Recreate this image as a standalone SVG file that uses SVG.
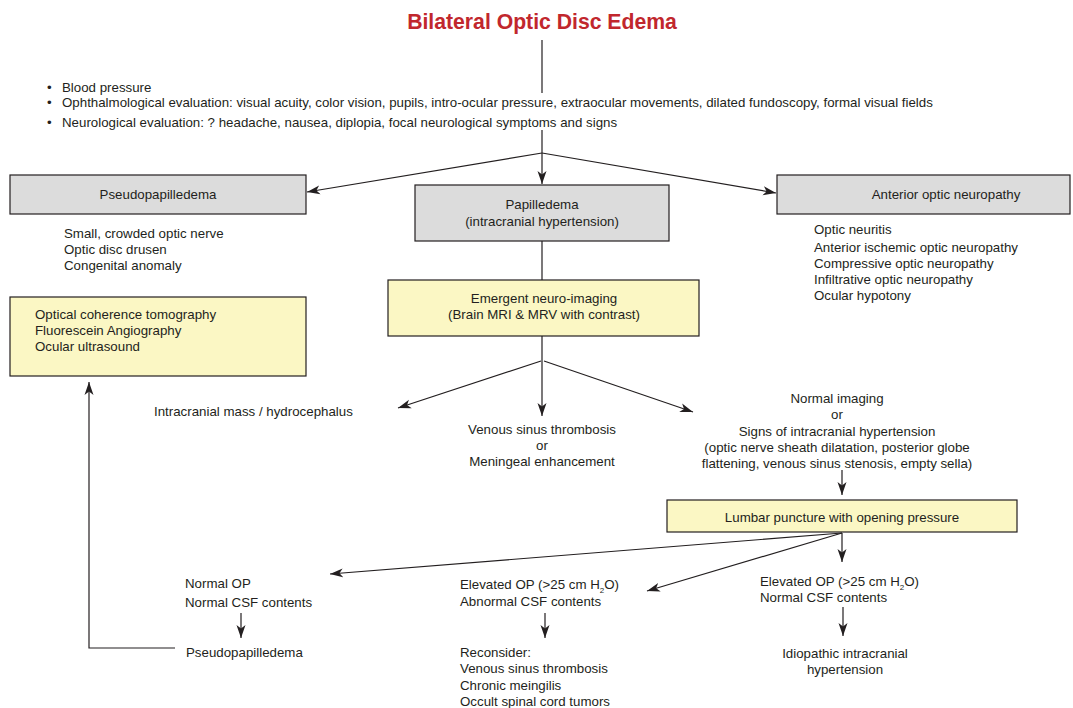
<svg xmlns="http://www.w3.org/2000/svg" width="1073" height="708" viewBox="0 0 1073 708">
<style>
text{font-family:"Liberation Sans",Arial,sans-serif;font-size:13.3px;fill:#231f20}
.title{font-size:21.2px;font-weight:bold;fill:#c1272d}
.c{text-anchor:middle}
.sub{font-size:8px}
.grey{fill:#dcdcdc;stroke:#231f20;stroke-width:1.2}
.yel{fill:#fbf7c4;stroke:#231f20;stroke-width:1.2}
.ln{fill:none;stroke:#231f20;stroke-width:1.2}
.ar{fill:none;stroke:#231f20;stroke-width:1.2;marker-end:url(#ah)}
</style>
<defs>
<marker id="ah" markerUnits="userSpaceOnUse" markerWidth="14" markerHeight="10" refX="13" refY="5" orient="auto">
<path d="M0,0.5 L13,5 L0,9.5 L3.5,5 z" fill="#231f20"/>
</marker>
</defs>
<rect width="1073" height="708" fill="#ffffff"/>

<g id="title"><text class="title c" x="542" y="29">Bilateral Optic Disc Edema</text></g>

<g id="evaluation">
<text x="47" y="92">•</text><text x="62" y="92">Blood pressure</text>
<text x="47" y="107">•</text><text x="62" y="107">Ophthalmological evaluation: visual acuity, color vision, pupils, intro-ocular pressure, extraocular movements, dilated fundoscopy, formal visual fields</text>
<text x="47" y="127">•</text><text x="62" y="127">Neurological evaluation: ? headache, nausea, diplopia, focal neurological symptoms and signs</text>
</g>

<g id="pseudopapilledema">
<rect class="grey" x="10" y="175" width="296" height="39"/>
<text class="c" x="158" y="199">Pseudopapilledema</text>
</g>
<g id="pseudo-causes">
<text x="64" y="238">Small, crowded optic nerve</text>
<text x="64" y="254">Optic disc drusen</text>
<text x="64" y="270">Congenital anomaly</text>
</g>
<g id="papilledema">
<rect class="grey" x="415" y="185" width="254" height="56"/>
<text class="c" x="542" y="209">Papilledema</text>
<text class="c" x="542" y="226">(intracranial hypertension)</text>
</g>
<g id="anterior-optic-neuropathy">
<rect class="grey" x="777" y="175" width="293" height="39"/>
<text class="c" x="946" y="199">Anterior optic neuropathy</text>
</g>
<g id="anterior-causes">
<text x="814" y="234">Optic neuritis</text>
<text x="814" y="252">Anterior ischemic optic neuropathy</text>
<text x="814" y="268">Compressive optic neuropathy</text>
<text x="814" y="284">Infiltrative optic neuropathy</text>
<text x="814" y="300">Ocular hypotony</text>
</g>
<g id="imaging-tests">
<rect class="yel" x="10" y="297" width="296" height="79"/>
<text x="35" y="319">Optical coherence tomography</text>
<text x="35" y="335">Fluorescein Angiography</text>
<text x="35" y="351">Ocular ultrasound</text>
</g>
<g id="neuro-imaging">
<rect class="yel" x="388" y="280" width="311" height="56"/>
<text class="c" x="544" y="303">Emergent neuro-imaging</text>
<text class="c" x="544" y="319">(Brain MRI &amp; MRV with contrast)</text>
</g>
<g id="mass"><text x="154" y="416">Intracranial mass / hydrocephalus</text></g>
<g id="venous">
<text class="c" x="542" y="434">Venous sinus thrombosis</text>
<text class="c" x="542" y="450">or</text>
<text class="c" x="542" y="466">Meningeal enhancement</text>
</g>
<g id="normal-imaging">
<text class="c" x="837" y="403">Normal imaging</text>
<text class="c" x="837" y="419">or</text>
<text class="c" x="837" y="436">Signs of intracranial hypertension</text>
<text class="c" x="837" y="452">(optic nerve sheath dilatation, posterior globe</text>
<text class="c" x="837" y="468">flattening, venous sinus stenosis, empty sella)</text>
</g>
<g id="lumbar-puncture">
<rect class="yel" x="667" y="500" width="350" height="32"/>
<text class="c" x="842" y="522">Lumbar puncture with opening pressure</text>
</g>
<g id="normal-op">
<text x="185" y="588">Normal OP</text>
<text x="185" y="607">Normal CSF contents</text>
</g>
<g id="pseudo-result"><text x="186" y="657">Pseudopapilledema</text></g>
<g id="elevated-abnormal">
<text x="460" y="589">Elevated OP (&gt;25 cm H<tspan class="sub" dy="4">2</tspan><tspan dy="-4">O)</tspan></text>
<text x="460" y="606">Abnormal CSF contents</text>
</g>
<g id="reconsider">
<text x="460" y="657">Reconsider:</text>
<text x="460" y="673">Venous sinus thrombosis</text>
<text x="460" y="690">Chronic meingilis</text>
<text x="460" y="706">Occult spinal cord tumors</text>
</g>
<g id="elevated-normal">
<text x="760" y="586">Elevated OP (&gt;25 cm H<tspan class="sub" dy="4">2</tspan><tspan dy="-4">O)</tspan></text>
<text x="760" y="602">Normal CSF contents</text>
</g>
<g id="iih">
<text class="c" x="845" y="658">Idiopathic intracranial</text>
<text class="c" x="845" y="674">hypertension</text>
</g>

<g id="connectors">
<line class="ln" x1="542" y1="40" x2="542" y2="93"/>
<line class="ln" x1="542" y1="130" x2="542" y2="153"/>
<line class="ar" x1="542" y1="153" x2="542" y2="184"/>
<line class="ar" x1="542" y1="153" x2="307" y2="192"/>
<line class="ar" x1="542" y1="153" x2="776" y2="193"/>
<line class="ln" x1="542" y1="241" x2="542" y2="280"/>
<line class="ln" x1="542" y1="336" x2="542" y2="361"/>
<line class="ar" x1="542" y1="361" x2="542" y2="416"/>
<line class="ar" x1="541" y1="361" x2="398" y2="408"/>
<line class="ar" x1="544" y1="361" x2="693" y2="412"/>
<line class="ar" x1="842" y1="470" x2="842" y2="495"/>
<line class="ar" x1="842" y1="533" x2="330" y2="574"/>
<line class="ar" x1="842" y1="533" x2="647" y2="591"/>
<line class="ar" x1="842" y1="533" x2="842" y2="562"/>
<line class="ar" x1="241" y1="613" x2="241" y2="638"/>
<line class="ar" x1="545" y1="613" x2="545" y2="638"/>
<line class="ar" x1="843" y1="607" x2="843" y2="636"/>
<polyline class="ar" points="175,648 89,648 89,382"/>
</g>
</svg>
